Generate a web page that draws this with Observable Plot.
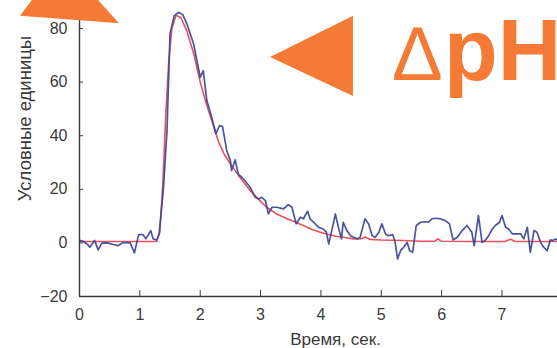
<!DOCTYPE html>
<html>
<head>
<meta charset="utf-8">
<script src="https://cdn.jsdelivr.net/npm/d3@7"></script>
<script src="https://cdn.jsdelivr.net/npm/@observablehq/plot@0.6"></script>
<style>
  html, body { margin: 0; padding: 0; background: #fff; }
  #wrap { position: relative; width: 557px; height: 348px; overflow: hidden; }
  #wrap svg { display: block; }
  #deco { position: absolute; left: 0; top: 0; pointer-events: none; }
</style>
</head>
<body>
<div id="wrap"></div>
<script>
// Measured signal (blue)
const blueX = [0.00,0.06,0.13,0.17,0.25,0.31,0.37,0.46,0.56,0.64,0.73,0.84,0.91,0.98,1.05,1.10,1.18,1.22,1.28,1.32,
  1.39,1.45,1.50,1.57,1.64,1.71,1.78,1.89,2.00,2.05,2.11,2.19,2.26,2.32,2.37,2.44,2.50,2.52,2.58,2.63,2.69,2.74,2.83,2.91,2.97,
  3.02,3.08,3.13,3.19,3.27,3.38,3.46,3.52,3.59,3.66,3.71,3.78,3.82,3.88,3.96,4.04,4.09,4.13,4.18,4.24,4.29,4.34,4.37,4.43,4.49,
  4.54,4.61,4.65,4.73,4.79,4.85,4.90,4.96,5.01,5.07,5.12,5.19,5.23,5.27,5.32,5.37,5.43,5.47,5.52,5.58,5.65,5.73,5.78,5.84,5.90,
  5.98,6.06,6.13,6.19,6.26,6.34,6.42,6.50,6.54,6.61,6.67,6.72,6.78,6.84,6.89,6.96,7.00,7.06,7.11,7.17,7.31,7.36,7.42,7.47,7.53,
  7.58,7.64,7.69,7.75,7.80,7.84,7.89,7.93];
const blueY = [1.0,0.6,-0.5,-1.6,0.9,-2.6,-0.1,0.0,-0.6,-1.0,0.2,0.0,-3.7,3.1,3.1,1.5,4.6,1.5,1.1,3.4,
  20,42,78,84.8,86,85.2,81.7,74.3,61.8,64.3,53.1,46.9,40.7,43.8,43.4,34.4,30.7,27,31,25.7,24.5,23.2,20.7,17,16.4,
  17,15.8,10.8,13.3,13.3,12.7,14.3,13.3,7.1,9.6,9.0,11.8,9,7.7,5.8,5.2,4,-0.4,4.6,10.8,5.8,1.5,7.7,4.6,2.7,
  2.1,1.5,2.1,9,7.1,2.7,2.1,4,7.1,3.4,2.7,3.1,0.2,-6,-2.9,-1.6,0.2,-2.9,-3.5,6.5,7.7,7.9,7.7,9,9.2,
  9,8.3,7.1,1.1,2.1,4.6,6.5,4,-1,10.2,0.2,0.9,2.7,5.2,6.5,7.7,10.2,5.8,5.2,3.4,3.4,1.5,5.8,-3.5,4.6,
  4,0.2,-1.6,-2.9,1.1,0.9,1.5,0.9];

// Fitted curve (red)
const redX = [0,1.28,1.33,1.38,1.43,1.48,1.53,1.60,1.68,1.78,1.90,2.00,2.10,2.20,2.30,2.40,2.50,2.64,2.83,3.00,3.10,3.25,3.44,3.60,3.71,3.85,3.99,
  4.10,4.27,4.40,4.54,4.68,4.73,4.82,5.00,5.20,5.37,5.65,5.88,5.94,6.00,6.50,7.05,7.14,7.22,7.93];
const redY = [0.5,0.5,4,22,48,68,80,85,84,79,70,60,52,45,38,33,29.5,25,19.5,15.5,13.3,11,9,7.5,6.5,5,4,
  3.2,2.4,2.0,1.5,1.6,2.2,1.3,1.1,1.0,0.9,0.6,0.6,1.5,0.6,0.5,0.5,1.4,0.5,0.5];

const xTicks = [0,1,2,3,4,5,6,7];
const yTicks = [-20,0,20,40,60,80];
const xLabel = "Время, сек.";
const yLabel = "Условные единицы";
const annotation = ["Δ", "pH"];

const blue = blueX.map((x, i) => ({x, y: blueY[i]}));
const red = redX.map((x, i) => ({x, y: redY[i]}));

const axisColor = "#3a3a3a";
const font = "Liberation Sans, Arial, sans-serif";

const chart = Plot.plot({
  width: 557,
  height: 348,
  marginLeft: 79,
  marginRight: 0,
  marginTop: 0,
  marginBottom: 52,
  style: {fontFamily: font, fontSize: "16px", color: axisColor, background: "#fff"},
  x: {domain: [0, 7.92]},
  y: {domain: [-20, 90.45]},
  marks: [
    Plot.line(red, {x: "x", y: "y", stroke: "#e8525a", strokeWidth: 1.6, clip: true}),
    Plot.line(blue, {x: "x", y: "y", stroke: "#3b4796", strokeWidth: 1.7, strokeOpacity: 0.92, clip: true}),
    Plot.ruleX([0], {stroke: axisColor, strokeWidth: 1.4}),
    Plot.ruleY([-20], {stroke: axisColor, strokeWidth: 1.4}),
    Plot.axisX({ticks: xTicks, tickSize: -6, tickFormat: () => "", label: null, stroke: axisColor}),
    Plot.axisX({ticks: xTicks, tickSize: 0, tickPadding: 12, label: null, fill: axisColor, fontSize: 16}),
    Plot.axisY({ticks: yTicks, tickSize: -4, tickFormat: () => "", label: null, stroke: axisColor}),
    Plot.axisY({ticks: yTicks, tickSize: 0, tickPadding: 12, label: null, fill: axisColor, fontSize: 16,
      tickFormat: d => d < 0 ? "\u2212" + Math.abs(d) : String(d)}),
    Plot.text([xLabel], {frameAnchor: "bottom", textAnchor: "middle", lineAnchor: "top", dx: 17, dy: 36, fill: axisColor, fontSize: 17}),
    Plot.text([yLabel], {frameAnchor: "left", textAnchor: "middle", lineAnchor: "middle", rotate: -90, dx: -54, dy: -30, fill: axisColor, fontSize: 18.5})
  ]
});

const wrap = document.getElementById("wrap");
wrap.appendChild(chart);

// Orange annotation overlay (decoration)
const ns = "http://www.w3.org/2000/svg";
const deco = document.createElementNS(ns, "svg");
deco.setAttribute("id", "deco");
deco.setAttribute("width", 557);
deco.setAttribute("height", 348);
const orange = "#f47a35";
const tri1 = document.createElementNS(ns, "polygon");
tri1.setAttribute("points", "20,15.7 119,23.3 62,-40");
tri1.setAttribute("fill", orange);
deco.appendChild(tri1);
const tri2 = document.createElementNS(ns, "polygon");
tri2.setAttribute("points", "270,57 353,15.7 353,96");
tri2.setAttribute("fill", orange);
deco.appendChild(tri2);
const t = document.createElementNS(ns, "text");
t.setAttribute("y", 80);
t.setAttribute("fill", orange);
t.setAttribute("font-family", font);
const s1 = document.createElementNS(ns, "tspan");
s1.setAttribute("x", 392);
s1.setAttribute("font-size", 76);
s1.setAttribute("font-weight", "normal");
s1.textContent = annotation[0];
const s2 = document.createElementNS(ns, "tspan");
s2.setAttribute("x", 444);
s2.setAttribute("font-size", 88);
s2.setAttribute("font-weight", "bold");
s2.textContent = annotation[1];
t.appendChild(s1);
t.appendChild(s2);
deco.appendChild(t);
wrap.appendChild(deco);
</script>
</body>
</html>
